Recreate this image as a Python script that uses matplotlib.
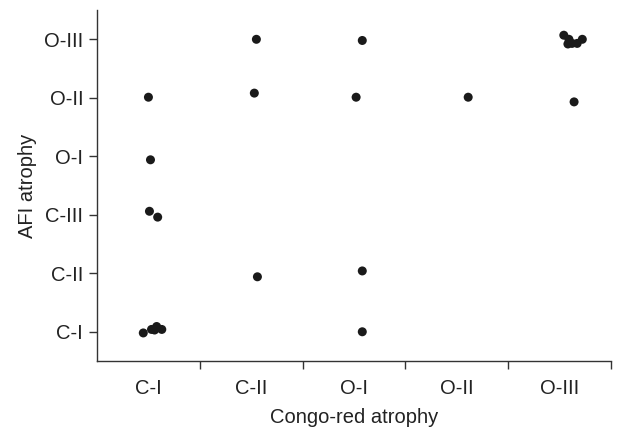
import matplotlib
matplotlib.use("Agg")
import matplotlib.pyplot as plt
import numpy as np

plt.rcParams['font.family'] = ['Liberation Sans', 'DejaVu Sans']

x_labels = ['C-I', 'C-II', 'O-I', 'O-II', 'O-III']
y_labels = ['C-I', 'C-II', 'C-III', 'O-I', 'O-II', 'O-III']

# jittered positions (category index units)
congo = [-0.05, 0.03, 0.08, 0.13, 0.06, 0.01, 0.09, 0.02, 0.00,
         1.05, 1.03, 1.06,
         2.08, 2.02, 2.08, 2.08,
         3.11,
         4.04, 4.09, 4.12, 4.08, 4.17, 4.22, 4.14]
afi = [-0.02, 0.04, 0.09, 0.04, 0.03, 2.06, 1.96, 2.94, 4.01,
       5.00, 4.08, 0.94,
       4.98, 4.01, 1.04, 0.00,
       4.01,
       5.07, 5.00, 4.93, 4.92, 4.93, 5.00,
       3.93]

fig = plt.figure(figsize=(6.3, 4.28), dpi=100)
ax = fig.add_axes([0.154, 0.1565, 0.816, 0.82])

ax.scatter(congo, afi, s=42, color='#1a1a1a', edgecolors='none', zorder=3)

ax.set_xlim(-0.5, 4.5)
ax.set_ylim(-0.5, 5.5)

ax.spines['top'].set_visible(False)
ax.spines['right'].set_visible(False)
for sp in ['left', 'bottom']:
    ax.spines[sp].set_color('#333333')
    ax.spines[sp].set_linewidth(1.0)

ax.set_yticks(range(len(y_labels)))
ax.set_yticklabels(y_labels, fontsize=14.5, color='#222222')
ax.tick_params(axis='y', length=5.5, width=1.0, color='#333333', pad=4.5)

ax.set_xticks(range(len(x_labels)))
ax.set_xticklabels(x_labels, fontsize=14.5, color='#222222')
ax.set_xticks(np.arange(0.5, 4.6, 1.0), minor=True)
ax.tick_params(axis='x', which='major', length=0, pad=13)
ax.tick_params(axis='x', which='minor', length=5.5, width=1.0, color='#333333')

ax.set_xlabel('Congo-red atrophy', fontsize=14.5, color='#222222', labelpad=7)
ax.set_ylabel('AFI atrophy', fontsize=14.5, color='#222222', labelpad=5)

fig.savefig('out.png', dpi=100)
